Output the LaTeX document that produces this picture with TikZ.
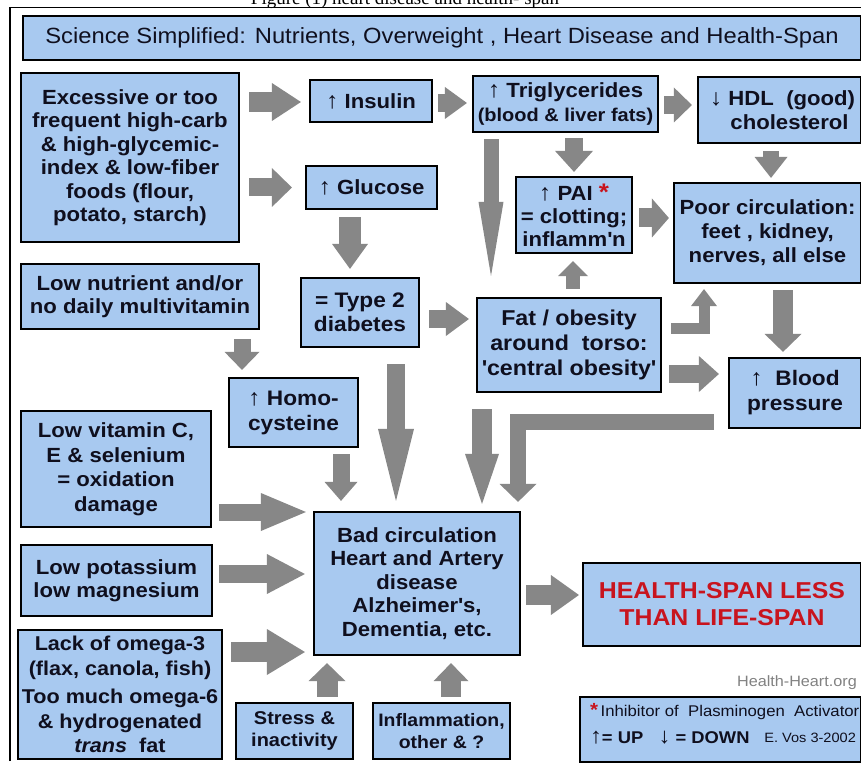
\documentclass[tikz,border=0pt]{standalone}
\usepackage{fontspec}
\setmainfont{Liberation Sans}[FakeStretch=1.08]
\newfontfamily\capfont{Liberation Serif}
\usetikzlibrary{arrows.meta,calc}
\definecolor{boxblue}{RGB}{168,201,240}
\definecolor{arrgray}{RGB}{135,135,135}
\definecolor{txt}{RGB}{15,15,30}
\definecolor{hsred}{RGB}{200,20,30}
\definecolor{webgray}{RGB}{130,130,130}
\tikzset{
  box/.style={draw=black, line width=2.2pt, fill=boxblue, align=center, inner sep=0pt, text=txt,
    font=\bfseries\fontsize{20.5}{23.5}\selectfont},
  blk/.style n args={3}{draw=arrgray, line width=#1pt, line join=miter,
    -{Triangle[length=#2pt,width=#3pt,line width=0pt 0]}},
}
\newcommand{\sq}{\textquotesingle}
\newcommand{\uparr}{{\fontsize{23}{20}\selectfont ↑}}
\newcommand{\dnarr}{{\fontsize{23}{20}\selectfont ↓}}
\begin{document}
\begin{tikzpicture}[x=1pt,y=-1pt]
\useasboundingbox (0,0) rectangle (861,775);
\fill[white] (0,0) rectangle (861,775);
\node[anchor=base, inner sep=0, font=\capfont\fontsize{19}{24}\selectfont] (cap) at (405,5) {Figure (1) heart disease and health- span};
\draw[line width=1.3pt] (10,761) -- (10,7.5) -- (861,7.5);

\node[box, minimum width=838, minimum height=44, line width=2.8pt, font=\fontsize{22}{26}\selectfont] (title) at (442,38)
  {Science Simplified: Nutrients, Overweight , Heart Disease and Health-Span};

\node[box, minimum width=218, minimum height=169] (ex) at (130,157.5)
  {Excessive or too\\frequent high-carb\\\& high-glycemic-\\index \& low-fiber\\foods (flour,\\potato, starch)};
\node[box, minimum width=122, minimum height=42] (ins) at (371,101) {\uparr\ Insulin};
\node[box, minimum width=131, minimum height=43] (glu) at (371.5,187.5) {\uparr\ Glucose};
\node[box, minimum width=185, minimum height=56] (trig) at (565.5,104)
  {\uparr\ Triglycerides\\{\fontsize{18.5}{21}\selectfont (blood \& liver fats)}};
\node[box, minimum width=163, minimum height=66] (hdl) at (779.5,110)
  {\hspace*{6pt}\dnarr\ HDL~~(good)\\\hspace*{20pt}cholesterol};
\node[box, minimum width=116, minimum height=76, font=\bfseries\fontsize{20.5}{23}\selectfont] (pai) at (574,215)
  {\uparr\ PAI~{\color{hsred}\fontsize{24}{20}\selectfont *}\\= clotting;\\inflamm\sq n};
\node[box, minimum width=187, minimum height=100, font=\bfseries\fontsize{20.5}{24}\selectfont] (poor) at (767.5,233)
  {Poor circulation:\\feet , kidney,\\nerves, all else};
\node[box, minimum width=238, minimum height=65] (lown) at (140,296.5)
  {Low nutrient and/or\\no daily multivitamin};
\node[box, minimum width=118, minimum height=69, font=\bfseries\fontsize{21}{24.5}\selectfont] (t2) at (360,312.5)
  {= Type 2\\diabetes};
\node[box, minimum width=184, minimum height=94, font=\bfseries\fontsize{21.5}{25}\selectfont] (fat) at (569,345)
  {Fat / obesity\\around~~torso:\\\sq central obesity\sq};
\node[box, minimum width=132, minimum height=70, font=\bfseries\fontsize{21}{25}\selectfont] (bp) at (795,393)
  {\uparr~~Blood\\pressure};
\node[box, minimum width=129, minimum height=69, font=\bfseries\fontsize{21}{25}\selectfont] (homo) at (293.5,412.5)
  {\uparr\ Homo-\\cysteine};
\node[box, minimum width=190, minimum height=116, font=\bfseries\fontsize{20.5}{24.5}\selectfont] (vit) at (116,469)
  {Low vitamin C,\\E \& selenium\\= oxidation\\damage};
\node[box, minimum width=206, minimum height=143] (bad) at (417,583.5)
  {Bad circulation\\Heart and Artery\\disease\\Alzheimer\sq s,\\Dementia, etc.};
\node[box, minimum width=191, minimum height=71] (pot) at (116.5,580.5)
  {Low potassium\\low magnesium};
\node[box, minimum width=278, minimum height=83, text=hsred, font=\bfseries\fontsize{23}{27}\selectfont] (hs) at (722,604.5)
  {HEALTH-SPAN LESS\\THAN LIFE-SPAN};
\node[box, minimum width=204, minimum height=129, font=\bfseries\fontsize{20}{24.5}\selectfont] (om) at (120,694.5)
  {Lack of omega-3\\(flax, canola, fish)\\[4pt]Too much omega-6\\\& hydrogenated\\\textit{trans}~~fat};
\node[box, minimum width=117, minimum height=56, font=\bfseries\fontsize{18.5}{22}\selectfont] (str) at (294.5,731)
  {Stress \&\\inactivity};
\node[box, minimum width=137, minimum height=56, font=\bfseries\fontsize{18}{22}\selectfont] (inf) at (441.5,731)
  {Inflammation,\\other \& ?};

\node[anchor=east, inner sep=0, text=webgray, font=\fontsize{15}{18}\selectfont] (web) at (857,683) {Health-Heart.org};
\node[box, minimum width=281, minimum height=65] (leg) at (720.5,729.5) {};
\node[anchor=west, inner sep=0, text=txt, font=\fontsize{15.5}{18}\selectfont] (leg1) at ($(leg.west)+(11,-17.5)$)
  {{\color{hsred}\bfseries\fontsize{19}{18}\selectfont *}\,Inhibitor of~ Plasminogen~ Activator};
\node[anchor=west, inner sep=0, text=txt, font=\bfseries\fontsize{17}{18}\selectfont] (leg2) at ($(leg.west)+(11,8.5)$)
  {{\fontsize{22}{18}\selectfont ↑}= UP~~ {\fontsize{22}{18}\selectfont ↓} = DOWN};
\node[anchor=east, inner sep=0, text=txt, font=\fontsize{13.5}{16}\selectfont] (leg3) at ($(leg.east)+(-6,8.5)$)
  {E. Vos 3-2002};

% connectors
\draw[blk={20}{29}{38}] ($(ex.east|-ins)+(9,1)$) -- ($(ins.west)+(-8,1)$);
\draw[blk={18}{20}{39}] ($(ex.east|-glu)+(9,0)$) -- ($(glu.west)+(-13,0)$);
\draw[blk={22}{25}{36}] ($(glu.south)+(-21.5,7)$) -- ($(t2.north)+(-10,-8)$);
\draw[blk={18}{22}{32}] ($(ins.east)+(5,2)$) -- ($(trig.west|-ins.east)+(-5,2)$);
\draw[blk={18}{18}{35}] ($(trig.east)+(5,1)$) -- ($(hdl.west|-trig.east)+(-5,1)$);
\draw[blk={18}{21}{38}] ($(trig.south-|pai)+(0,5)$) -- ($(pai.north)+(0,-4)$);
\draw[blk={15}{74}{25}] ($(trig.south)+(-74.5,6)$) -- ($(fat.north)+(-78,-21)$);
\draw[blk={16}{21}{33}] ($(hdl.south)+(-8.5,7)$) -- ($(poor.north)+(3.5,-4)$);
\draw[blk={19}{17}{39}] ($(pai.east)+(6,3)$) -- ($(poor.west|-pai.east)+(-4,3)$);
\draw[blk={14}{15}{30}] ($(fat.north)+(4,-8)$) -- ($(pai.south)+(-1,7)$);
\draw[blk={11}{17}{26}] ($(fat.east)+(9,-17)$) -| ($(poor.south)+(-63.5,5)$);
\draw[blk={20}{18}{37}] ($(poor.south)+(15.5,6)$) -- ($(bp.north)+(-12,-5)$);
\draw[blk={18}{23}{34}] ($(t2.east)+(9,6.5)$) -- ($(fat.west|-t2.east)+(-7,6.5)$);
\draw[blk={18}{20}{36}] ($(fat.east)+(7,29)$) -- ($(bp.west|-fat.east)+(-9,29)$);
\draw[blk={16}{18}{37}] ($(bp.west)+(-14,29)$) -| ($(bad.north)+(101,-9)$);
\draw[blk={20}{50}{34}] ($(fat.south)+(-87,16)$) -- ($(bad.north)+(65,-7)$);
\draw[blk={18}{72}{36}] ($(t2.south)+(36,16)$) -- ($(bad.north)+(-21,-10)$);
\draw[blk={17}{18}{35}] ($(lown.south)+(102,9)$) -- ($(homo.north)+(-51.5,-7)$);
\draw[blk={17}{19}{33}] ($(homo.south)+(47.5,6)$) -- ($(bad.north)+(-76,-10)$);
\draw[blk={17}{45}{38}] ($(vit.east)+(7,43)$) -- ($(bad.west|-vit.east)+(-7,43)$);
\draw[blk={18}{38}{40}] ($(pot.east)+(6,-6.5)$) -- ($(bad.west|-pot.east)+(-8,-6.5)$);
\draw[blk={20}{38}{46}] ($(om.east)+(8,-42.5)$) -- ($(bad.west|-om.east)+(-8,-42.5)$);
\draw[blk={21}{18}{37}] ($(str.north)+(32.5,-5)$) -- ($(bad.south)+(-90,7)$);
\draw[blk={20}{18}{35}] ($(inf.north)+(9.5,-5)$) -- ($(bad.south)+(34,7)$);
\draw[blk={20}{28}{40}] ($(bad.east)+(5,11.5)$) -- ($(hs.west|-bad.east)+(-3,11.5)$);
\end{tikzpicture}
\end{document}
